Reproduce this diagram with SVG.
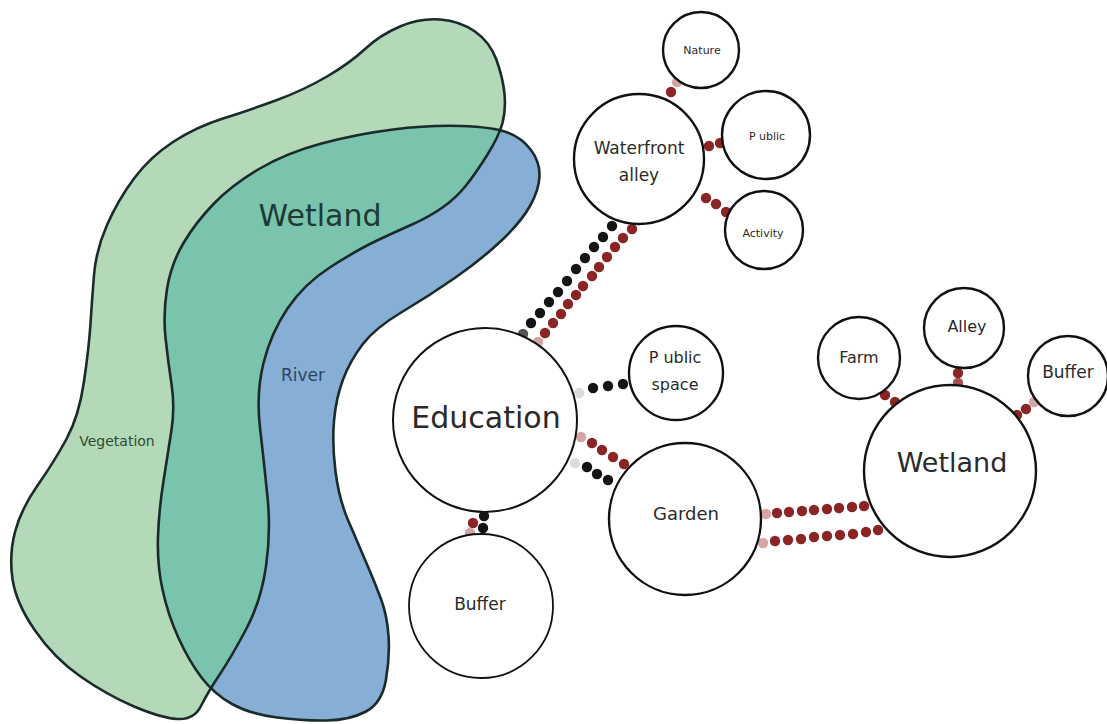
<svg xmlns="http://www.w3.org/2000/svg" width="1107" height="724" viewBox="0 0 1107 724">
<style>
.node{fill:#fff;stroke:#111;stroke-width:2.4}
.t{font-family:"DejaVu Sans","Liberation Sans",sans-serif;fill:#2a2a2a;text-anchor:middle}
.r{fill:#8b2424}.p{fill:#d6a4a4}.k{fill:#141414}.g{fill:#dcdcdc}
.blob{fill:none;stroke:#1b2a2a;stroke-width:2.6;stroke-linejoin:round}
#connectors circle{r:5.2px}
</style>
<defs>
<path id="gp" d="M277,100 Q304,90 327,76.5 Q350,63 365,49 Q380,35 400,26.5 Q420,18 440,19.5 Q460,21 475,31.5 Q490,42 496.5,60 Q503,78 504.5,94 Q506,110 502.5,123 Q499,136 487.5,154.5 Q476,173 466,185.5 Q456,198 442.5,207.5 Q429,217 412,224.5 Q395,232 376,241 Q357,250 330.5,267 Q304,284 287.5,308.5 Q271,333 263.5,363 Q256,393 260,427.5 Q264,462 267.5,497 Q271,532 266,566.5 Q261,601 246.5,628.5 Q232,656 220,674 Q208,692 201,706 Q194,720 177.5,719 Q161,718 134,706.5 Q107,695 80.5,676.5 Q54,658 35,630.5 Q16,603 12.5,579 Q9,555 15,532 Q21,509 37.5,485.5 Q54,462 66.5,439 Q79,416 84,381.5 Q89,347 90.5,323.5 Q92,300 94,275 Q96,250 107,225 Q118,200 134,178.5 Q150,157 173,142 Q196,127 223,118.5 Q250,110 277,100 Z"/>
<path id="bp" d="M165.5,337.5 Q163,314 167,289 Q171,264 183.5,243 Q196,222 214,203.5 Q232,185 259,169 Q286,153 321.5,143.5 Q357,134 393,129.5 Q429,125 461,126 Q493,127 507.5,132.5 Q522,138 531,150 Q540,162 539.5,176 Q539,190 530,206 Q521,222 501.5,240.5 Q482,259 455.5,277.5 Q429,296 402,312 Q375,328 362.5,344.5 Q350,361 343,379.5 Q336,398 334,421 Q332,444 335.5,471.5 Q339,499 348,520 Q357,541 366,562 Q375,583 381,599 Q387,615 388.5,635.5 Q390,656 386,679.5 Q382,703 366,711.5 Q350,720 327,720.5 Q304,721 277,717.5 Q250,714 232,704 Q214,694 201.5,677.5 Q189,661 178.5,638 Q168,615 162.5,589.5 Q157,564 158,536.5 Q159,509 163.5,481 Q168,453 171.5,430 Q175,407 171.5,384 Q168,361 165.5,337.5 Z"/>
<clipPath id="gclip"><use href="#gp"/></clipPath>
</defs>
<rect width="1107" height="724" fill="#fff"/>
<g id="zones">
<use href="#gp" fill="#b3d9b8"/>
<use href="#bp" fill="#87aed4"/>
<use href="#bp" fill="#7ac3ad" clip-path="url(#gclip)"/>
<use href="#gp" class="blob"/>
<use href="#bp" class="blob"/>
<text class="t" x="320" y="226" font-size="30" style="fill:#1d3a33">Wetland</text>
<text class="t" x="303" y="381" font-size="17" style="fill:#2c4565">River</text>
<text class="t" x="117" y="446" font-size="14" style="fill:#2d4a35">Vegetation</text>
</g>
<g id="connectors">
<circle class="p" cx="677" cy="82" r="5.2"/><circle class="r" cx="671" cy="92" r="5.2"/>
<circle class="r" cx="709" cy="146" r="5.2"/><circle class="r" cx="720" cy="143" r="5.2"/>
<circle class="r" cx="706" cy="198" r="5.2"/><circle class="r" cx="716" cy="204" r="5.2"/><circle class="r" cx="726" cy="212" r="5.2"/>
<g class="k">
<circle cx="612" cy="226" r="5.2"/><circle cx="603" cy="237" r="5.2"/><circle cx="594" cy="247" r="5.2"/><circle cx="585" cy="258" r="5.2"/><circle cx="576" cy="269" r="5.2"/><circle cx="567" cy="281" r="5.2"/><circle cx="558" cy="292" r="5.2"/><circle cx="549" cy="302" r="5.2"/><circle cx="540" cy="313" r="5.2"/><circle cx="531" cy="323" r="5.2"/>
</g>
<circle cx="523" cy="334" r="5.2" fill="#555"/>
<g class="r">
<circle cx="632" cy="229" r="5.2"/><circle cx="623" cy="238" r="5.2"/><circle cx="615" cy="247" r="5.2"/><circle cx="607" cy="257" r="5.2"/><circle cx="599" cy="267" r="5.2"/><circle cx="592" cy="276" r="5.2"/><circle cx="583" cy="286" r="5.2"/><circle cx="576" cy="295" r="5.2"/><circle cx="568" cy="304" r="5.2"/><circle cx="561" cy="314" r="5.2"/><circle cx="553" cy="323" r="5.2"/><circle cx="545" cy="333" r="5.2"/>
</g>
<circle class="p" cx="538" cy="342" r="5.2"/>
<circle class="g" cx="579" cy="393" r="5.2"/><circle class="k" cx="593" cy="388" r="5.2"/><circle class="k" cx="608" cy="386" r="5.2"/><circle class="k" cx="623" cy="384" r="5.2"/>
<circle class="p" cx="581" cy="437" r="5.2"/><circle class="r" cx="592" cy="443" r="5.2"/><circle class="r" cx="602" cy="450" r="5.2"/><circle class="r" cx="613" cy="457" r="5.2"/><circle class="r" cx="624" cy="464" r="5.2"/>
<circle class="g" cx="575" cy="463" r="5.2"/><circle class="k" cx="587" cy="467" r="5.2"/><circle class="k" cx="597" cy="474" r="5.2"/><circle class="k" cx="608" cy="480" r="5.2"/>
<circle class="k" cx="484" cy="516" r="5.2"/><circle class="k" cx="483" cy="528" r="5.2"/><circle class="r" cx="473" cy="523" r="5.2"/><circle class="p" cx="470" cy="533" r="5.2"/>
<circle class="p" cx="766" cy="514" r="5.2"/>
<g class="r">
<circle cx="777" cy="513" r="5.2"/><circle cx="789" cy="512" r="5.2"/><circle cx="802" cy="511" r="5.2"/><circle cx="814" cy="510" r="5.2"/><circle cx="827" cy="509" r="5.2"/><circle cx="839" cy="508" r="5.2"/><circle cx="852" cy="507" r="5.2"/><circle cx="864" cy="506" r="5.2"/>
</g>
<circle class="p" cx="763" cy="543" r="5.2"/>
<g class="r">
<circle cx="775" cy="541" r="5.2"/><circle cx="788" cy="540" r="5.2"/><circle cx="801" cy="539" r="5.2"/><circle cx="814" cy="537" r="5.2"/><circle cx="827" cy="536" r="5.2"/><circle cx="840" cy="535" r="5.2"/><circle cx="853" cy="534" r="5.2"/><circle cx="866" cy="532" r="5.2"/><circle cx="878" cy="530" r="5.2"/>
</g>
<circle class="r" cx="885" cy="395" r="5.2"/><circle class="r" cx="895" cy="402" r="5.2"/>
<circle class="r" cx="958" cy="373" r="5.2"/><circle cx="958" cy="383" r="5.2" fill="#a85050"/>
<circle class="r" cx="1017" cy="415" r="5.2"/><circle class="r" cx="1026" cy="409" r="5.2"/><circle class="p" cx="1034" cy="402" r="5.2"/>
</g>
<g id="nature"><circle class="node" cx="701" cy="50" r="38"/><text class="t" x="702" y="54" font-size="11">Nature</text></g>
<g id="waterfront"><circle class="node" cx="639" cy="159" r="65"/><text class="t" x="639" y="154" font-size="17">Waterfront</text><text class="t" x="639" y="181" font-size="17">alley</text></g>
<g id="public"><circle class="node" cx="766" cy="135" r="44"/><text class="t" x="767" y="140" font-size="11">P ublic</text></g>
<g id="activity"><circle class="node" cx="764" cy="230" r="39"/><text class="t" x="763" y="237" font-size="11">Activity</text></g>
<g id="education"><circle class="node" cx="485" cy="420" r="92" style="stroke-width:2"/><text class="t" x="486" y="428" font-size="30">Education</text></g>
<g id="public-space"><circle class="node" cx="676" cy="373" r="47"/><text class="t" x="675" y="363" font-size="16">P ublic</text><text class="t" x="675" y="390" font-size="16">space</text></g>
<g id="garden"><circle class="node" cx="685" cy="519" r="76"/><text class="t" x="686" y="520" font-size="18">Garden</text></g>
<g id="buffer"><circle class="node" cx="481" cy="606" r="72" style="stroke-width:1.8"/><text class="t" x="480" y="610" font-size="17">Buffer</text></g>
<g id="wetland"><circle class="node" cx="950" cy="471" r="86"/><text class="t" x="952" y="472" font-size="27">Wetland</text></g>
<g id="farm"><circle class="node" cx="859" cy="358" r="41"/><text class="t" x="859" y="363" font-size="16">Farm</text></g>
<g id="alley"><circle class="node" cx="964" cy="328" r="40"/><text class="t" x="967" y="332" font-size="16">Alley</text></g>
<g id="buffer-right"><circle class="node" cx="1068" cy="376" r="40"/><text class="t" x="1068" y="378" font-size="17">Buffer</text></g>
</svg>
